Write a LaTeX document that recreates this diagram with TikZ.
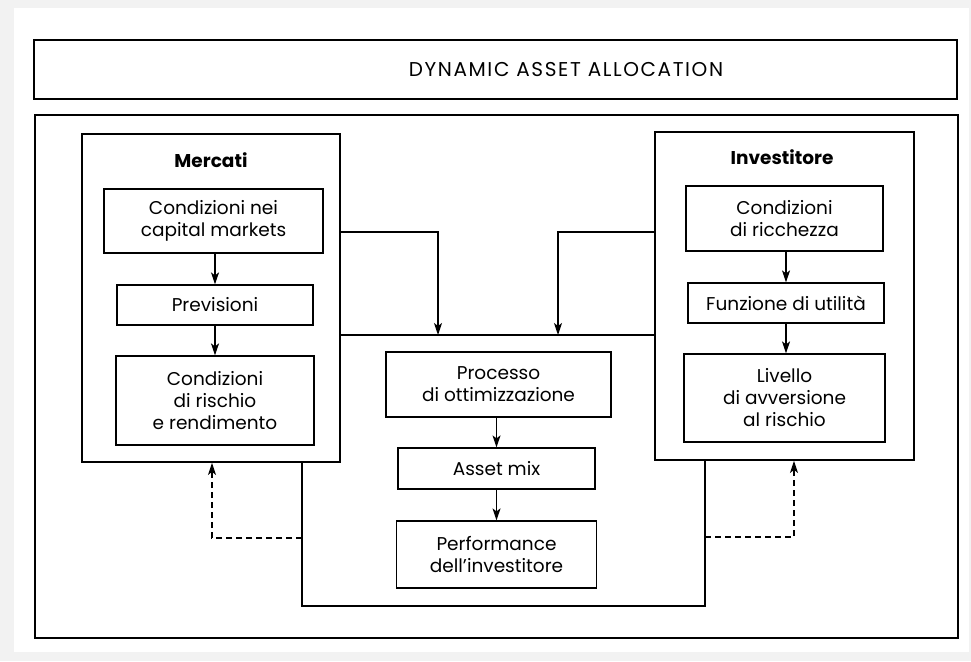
\documentclass[tikz,border=0pt]{standalone}
\usepackage{fontspec}
\setmainfont{Poppins}
\usetikzlibrary{arrows.meta}
\begin{document}
\begin{tikzpicture}[x=1pt,y=-1pt,
  txt/.style={font=\fontsize{18.5}{22}\selectfont, align=center},
  box/.style={draw, line width=1.2pt, inner sep=0pt, txt},
  bigbox/.style={draw, line width=1.8pt, inner sep=0pt},
  frame/.style={draw, line width=1.2pt, inner sep=0pt},
  conn/.style={line width=1.3pt},
  arr/.style={conn, -{Stealth[length=12pt,width=8pt,inset=3pt]}},
  darr/.style={arr, dash pattern=on 6pt off 4pt}
]
\useasboundingbox (0,0) rectangle (971,661);
\fill[gray!10] (0,0) rectangle (971,661);
\fill[white] (14,8) rectangle (969,652);

% title and outer frame
\node[frame, minimum width=923pt, minimum height=59pt] (title) at (495.5,69.5) {};
\node[font=\fontsize{20}{24}\selectfont\addfontfeature{LetterSpace=8}] (titletext) at (566,70) {DYNAMIC ASSET ALLOCATION};
\node[frame, minimum width=923pt, minimum height=523pt] (outer) at (496.5,376.5) {};

% Mercati
\node[bigbox, minimum width=258pt, minimum height=328pt] (mercati) at (211,298) {};
\node[txt, font=\fontsize{18.5}{22}\selectfont\bfseries] (mtitle) at (211,160) {Mercati};
\node[box, minimum width=219pt, minimum height=64pt] (m1) at (213.5,221) {Condizioni nei\\capital markets};
\node[box, minimum width=196pt, minimum height=40pt] (m2) at (215,305) {Previsioni};
\node[box, minimum width=198pt, minimum height=89pt] (m3) at (215,400.5) {Condizioni\\di rischio\\e rendimento};

% Investitore
\node[bigbox, minimum width=259pt, minimum height=328pt] (inv) at (784.5,296) {};
\node[txt, font=\fontsize{18.5}{22}\selectfont\bfseries] (ititle) at (782,157) {Investitore};
\node[box, minimum width=197pt, minimum height=65pt] (i1) at (784.5,218.5) {Condizioni\\di ricchezza};
\node[box, minimum width=196pt, minimum height=40pt] (i2) at (786,303) {Funzione di utilità};
\node[box, minimum width=201pt, minimum height=88pt] (i3) at (784.5,398) {Livello\\di avversione\\al rischio};

% centre
\node[box, minimum width=225pt, minimum height=65pt] (c1) at (498.5,384.5) {Processo\\di ottimizzazione};
\node[box, minimum width=197pt, minimum height=41pt] (c2) at (496.5,468.5) {Asset mix};
\node[box, minimum width=200pt, minimum height=67pt] (c3) at (496.5,554.5) {Performance\\dell’investitore};

% inner arrows
\draw[arr] (m1.south -| m2) -- (m2.north);
\draw[arr] (m2.south) -- (m3.north -| m2);
\draw[arr] (i1.south -| i2) -- (i2.north);
\draw[arr] (i2.south) -- (i3.north -| i2);
\draw[arr] (c1.south -| c2) -- (c2.north);
\draw[arr] (c2.south) -- (c3.north -| c2);

% top connectors
\coordinate (hy) at (0,232);
\coordinate (jL) at (438,335);
\coordinate (jR) at (558,335);
\draw[conn] (mercati.east |- jL) -- (inv.west |- jL);
\draw[arr] (mercati.east |- hy) -| (jL);
\draw[arr] (inv.west |- hy) -| (jR);

% bottom loop
\coordinate (bL) at (302,606);
\coordinate (bR) at (705,606);
\draw[conn] (mercati.south -| bL) -- (bL) -- (bR) -- (inv.south -| bR);

% dashed feedback
\coordinate (dL) at (212,538);
\coordinate (dR) at (794,537);
\draw[darr] (bL |- dL) -- (dL) -- (mercati.south -| dL);
\draw[darr] (bR |- dR) -- (dR) -- (inv.south -| dR);
\end{tikzpicture}
\end{document}
